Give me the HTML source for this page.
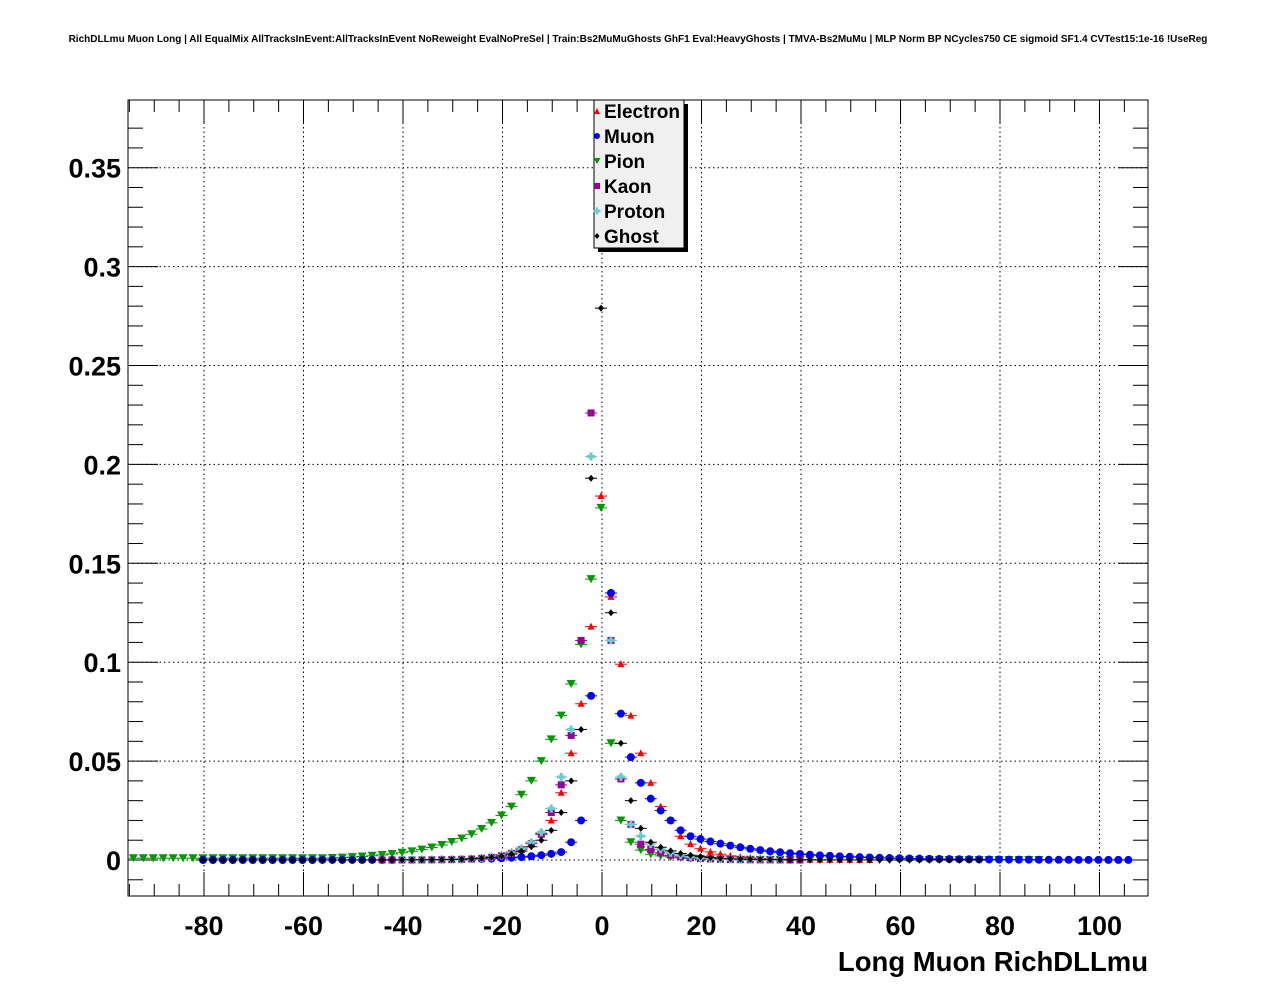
<!DOCTYPE html>
<html><head><meta charset="utf-8"><style>
body{margin:0;background:#fff;}
svg{display:block;font-family:"Liberation Sans",sans-serif;font-weight:bold;}
</style></head><body>
<svg id="s" width="1276" height="996" xmlns="http://www.w3.org/2000/svg">
<rect width="1276" height="996" fill="#fff"/>
<text x="638" y="42" font-size="10" text-anchor="middle">RichDLLmu Muon Long | All EqualMix AllTracksInEvent:AllTracksInEvent NoReweight EvalNoPreSel | Train:Bs2MuMuGhosts GhF1 Eval:HeavyGhosts | TMVA-Bs2MuMu | MLP Norm BP NCycles750 CE sigmoid SF1.4 CVTest15:1e-16 !UseReg</text>
<g id="grid"></g>
<rect x="128" y="100" width="1020" height="796" fill="none" stroke="#000" stroke-width="1"/>
<g id="ticks"></g>
<g id="pts"></g>
<text x="1148" y="971" font-size="27.5" text-anchor="end">Long Muon RichDLLmu</text>
<g id="leg">
<rect x="598" y="104" width="90" height="148" fill="#000"/>
<rect x="594" y="100" width="90" height="148" fill="#f0f0f0" stroke="#000"/>
</g>
</svg>
<script>
const NS="http://www.w3.org/2000/svg";
function el(p,t,a,txt){const e=document.createElementNS(NS,t);for(const k in a)e.setAttribute(k,a[k]);if(txt!==undefined)e.textContent=txt;document.getElementById(p).appendChild(e);return e;}
const X=v=>602+v*4.975, Y=v=>860-v*1978;
for(let v=-80;v<=100;v+=20){el('grid','line',{x1:X(v),x2:X(v),y1:100,y2:896,stroke:'#000','stroke-dasharray':'1.5,3'});
 el('ticks','text',{x:X(v),y:935,'font-size':27,'text-anchor':'middle'},v);}
for(let v=-95;v<=105;v+=5){const L=(v%20==0)?24:12;el('ticks','line',{x1:X(v),x2:X(v),y1:896,y2:896-L,stroke:'#000'});el('ticks','line',{x1:X(v),x2:X(v),y1:100,y2:100+L,stroke:'#000'});}
const yl=['0','0.05','0.1','0.15','0.2','0.25','0.3','0.35'];
for(let i=0;i<8;i++){const v=i*0.05;el('grid','line',{x1:128,x2:1148,y1:Y(v),y2:Y(v),stroke:'#000','stroke-dasharray':'1.5,3'});
 el('ticks','text',{x:121,y:Y(v)+10,'font-size':27,'text-anchor':'end'},yl[i]);}
for(let v=-0.01;v<=0.38;v+=0.01){const r=Math.round(v*100);const L=(r%5==0)?30:15;const y=Y(v);if(y<100||y>896)continue;
 el('ticks','line',{x1:128,x2:128+L,y1:y,y2:y,stroke:'#000'});el('ticks','line',{x1:1148,x2:1148-L,y1:y,y2:y,stroke:'#000'});}
function mark(c,x,y,t){
 if(t=='tri')el('pts','polygon',{points:`${x-3.5},${y+3} ${x+3.5},${y+3} ${x},${y-4}`,fill:c});
 else if(t=='dot')el('pts','circle',{cx:x,cy:y,r:4,fill:c});
 else if(t=='inv')el('pts','polygon',{points:`${x-4.5},${y-4} ${x+4.5},${y-4} ${x},${y+4}`,fill:c});
 else if(t=='sq')el('pts','rect',{x:x-3.5,y:y-3.5,width:7,height:7,fill:c});
 else if(t=='plus'){el('pts','rect',{x:x-4,y:y-1.5,width:8,height:3,fill:c});el('pts','rect',{x:x-1.5,y:y-4,width:3,height:8,fill:c});}
 else if(t=='dia')el('pts','polygon',{points:`${x-3},${y} ${x},${y-3.5} ${x+3},${y} ${x},${y+3.5}`,fill:c});
 el('pts','line',{x1:x-6,x2:x+6,y1:y,y2:y,stroke:c,'stroke-width':1});
}
function series(c,t,core,kmin,kmax,left,right){
 for(let k=kmin;k<=kmax;k++){let v;
  if(core[k]!==undefined)v=core[k];else if(k<0)v=left(k);else v=right(k);
  mark(c,601+k*9.95,Y(v),t);}
}
const P={'-9':0.027,'-8':0.033,'-7':0.040,'-6':0.050,'-5':0.061,'-4':0.073,'-3':0.089,'-2':0.109,'-1':0.142,'0':0.178,'1':0.059,'2':0.020,'3':0.009,'4':0.005};
series('#009900','inv',P,-47,44,k=>Math.max(0.0009,0.027*Math.exp((k+9)/5.5)),k=>0.004*Math.exp(-(k-4)/3));
const E={'-5':0.020,'-4':0.034,'-3':0.054,'-2':0.079,'-1':0.118,'0':0.184,'1':0.133,'2':0.099,'3':0.073,'4':0.054,'5':0.039,'6':0.027,'7':0.020,'8':0.012,'9':0.008};
series('#ff0000','tri',E,-24,27,k=>0.020*Math.exp((k+5)/2.5),k=>0.008*Math.exp(-(k-9)/3));
const M={'-4':0.004,'-3':0.009,'-2':0.020,'-1':0.083,'1':0.135,'2':0.074,'3':0.052,'4':0.039,'5':0.031,'6':0.025,'7':0.020,'8':0.015,'9':0.012};
series('#0000ff','dot',M,-40,-1,k=>0.004*Math.exp((k+4)/4),null);
series('#0000ff','dot',M,1,53,null,k=>0.012*Math.exp(-(k-9)/8));
const K={'-6':0.013,'-5':0.024,'-4':0.038,'-3':0.063,'-2':0.111,'-1':0.226,'1':0.111,'2':0.041,'3':0.018,'4':0.008};
series('#990099','sq',K,-22,-1,k=>0.013*Math.exp((k+6)/2.2),null);
series('#990099','sq',K,1,20,null,k=>0.008*Math.exp(-(k-4)/2.5));
const Pr={'-6':0.014,'-5':0.026,'-4':0.042,'-3':0.066,'-1':0.204,'1':0.111,'2':0.042,'3':0.018};
series('#66cccc','plus',Pr,-20,-3,k=>0.014*Math.exp((k+6)/2.2),null);
series('#66cccc','plus',Pr,-1,-1,null,null);
series('#66cccc','plus',Pr,1,18,null,k=>0.018*Math.exp(-(k-3)/2.5));
const G={'-6':0.010,'-5':0.015,'-4':0.024,'-3':0.040,'-2':0.066,'-1':0.193,'0':0.279,'1':0.125,'2':0.059,'3':0.030,'4':0.016,'5':0.009};
series('#000000','dia',G,-40,38,k=>0.010*Math.exp((k+6)/2.5),k=>0.009*Math.exp(-(k-5)/3));
const L=[['Electron','#ff0000','tri'],['Muon','#0000ff','dot'],['Pion','#009900','inv'],['Kaon','#990099','sq'],['Proton','#66cccc','plus'],['Ghost','#000000','dia']];
L.forEach((l,i)=>{const y=111+i*25;
 const x=597;
 if(l[2]=='tri')el('leg','polygon',{points:`${x-3},${y+3} ${x+3},${y+3} ${x},${y-3}`,fill:l[1]});
 else if(l[2]=='dot')el('leg','circle',{cx:x,cy:y,r:3,fill:l[1]});
 else if(l[2]=='inv')el('leg','polygon',{points:`${x-3.5},${y-3} ${x+3.5},${y-3} ${x},${y+3}`,fill:l[1]});
 else if(l[2]=='sq')el('leg','rect',{x:x-3,y:y-3,width:6,height:6,fill:l[1]});
 else if(l[2]=='plus'){el('leg','rect',{x:x-3.5,y:y-1.2,width:7,height:2.4,fill:l[1]});el('leg','rect',{x:x-1.2,y:y-3.5,width:2.4,height:7,fill:l[1]});}
 else el('leg','polygon',{points:`${x-2.5},${y} ${x},${y-3} ${x+2.5},${y} ${x},${y+3}`,fill:l[1]});
 el('leg','text',{x:604,y:y+7,'font-size':19},l[0]);
});
</script>
</body></html>
